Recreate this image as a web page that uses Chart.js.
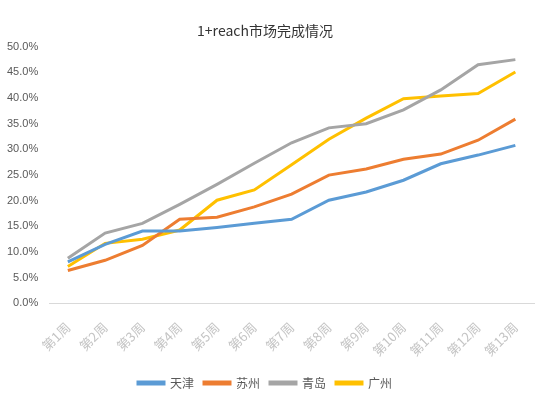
<!DOCTYPE html>
<html><head><meta charset="utf-8">
<script src="https://cdn.jsdelivr.net/npm/chart.js@4"></script>
<style>html,body{margin:0;padding:0;background:#fff}#w{width:548px;height:402px}</style>
</head><body><div id="w"><canvas id="c"></canvas></div>
<script>
const categories = ["第1周","第2周","第3周","第4周","第5周","第6周","第7周","第8周","第9周","第10周","第11周","第12周","第13周"];
const tianjin = [0.081,0.115,0.141,0.141,0.148,0.156,0.164,0.201,0.217,0.240,0.272,0.289,0.308];
const suzhou  = [0.064,0.084,0.113,0.164,0.168,0.188,0.213,0.250,0.262,0.281,0.291,0.318,0.359];
const qingdao = [0.088,0.137,0.156,0.193,0.232,0.273,0.313,0.342,0.350,0.377,0.416,0.465,0.475];
const guangzhou=[0.072,0.117,0.125,0.143,0.201,0.221,0.270,0.320,0.361,0.399,0.404,0.409,0.451];
const seriesNames = ["天津","苏州","青岛","广州"];
const colors = ["#5B9BD5","#ED7D31","#A5A5A5","#FFC000"];
const yTicks = [0,0.05,0.10,0.15,0.20,0.25,0.30,0.35,0.40,0.45,0.50];

const font = "'Noto Sans CJK SC','Liberation Sans',sans-serif";
new Chart(document.getElementById('c'), {
  type:'line',
  data:{labels:categories, datasets:[tianjin,suzhou,qingdao,guangzhou].map((d,i)=>({
    label:seriesNames[i], data:d, borderColor:colors[i], backgroundColor:colors[i],
    borderWidth:3, pointRadius:0, tension:0, fill:false
  }))},
  options:{
    responsive:true, maintainAspectRatio:false, animation:false,
    layout:{padding:{left:-4,right:14,top:22,bottom:3}},
    plugins:{
      title:{display:true,text:"1+reach市场完成情况",color:'#333',font:{family:font,size:14,weight:'normal'},padding:{top:0,bottom:8}},
      legend:{position:'bottom',labels:{boxWidth:26,boxHeight:2,padding:10,color:'#595959',font:{family:font,size:12}}},
      tooltip:{enabled:false}
    },
    scales:{
      x:{offset:true,grid:{display:false},border:{display:true,color:'#d9d9d9',width:1},
        afterFit:(s)=>{s.paddingLeft=0;s.paddingRight=0;},
        ticks:{maxRotation:45,minRotation:45,color:'#c4c4c4',font:{family:font,size:13},padding:8}},
      y:{min:0,max:0.5,grid:{display:false,drawTicks:false},border:{display:false},
        afterBuildTicks:(s)=>{s.ticks=yTicks.map(v=>({value:v}));},
        ticks:{color:'#595959',font:{family:"'Liberation Sans',sans-serif",size:11},padding:11,
          callback:(v)=>(v*100).toFixed(1)+'%'}}
    }
  }
});
</script></body></html>
